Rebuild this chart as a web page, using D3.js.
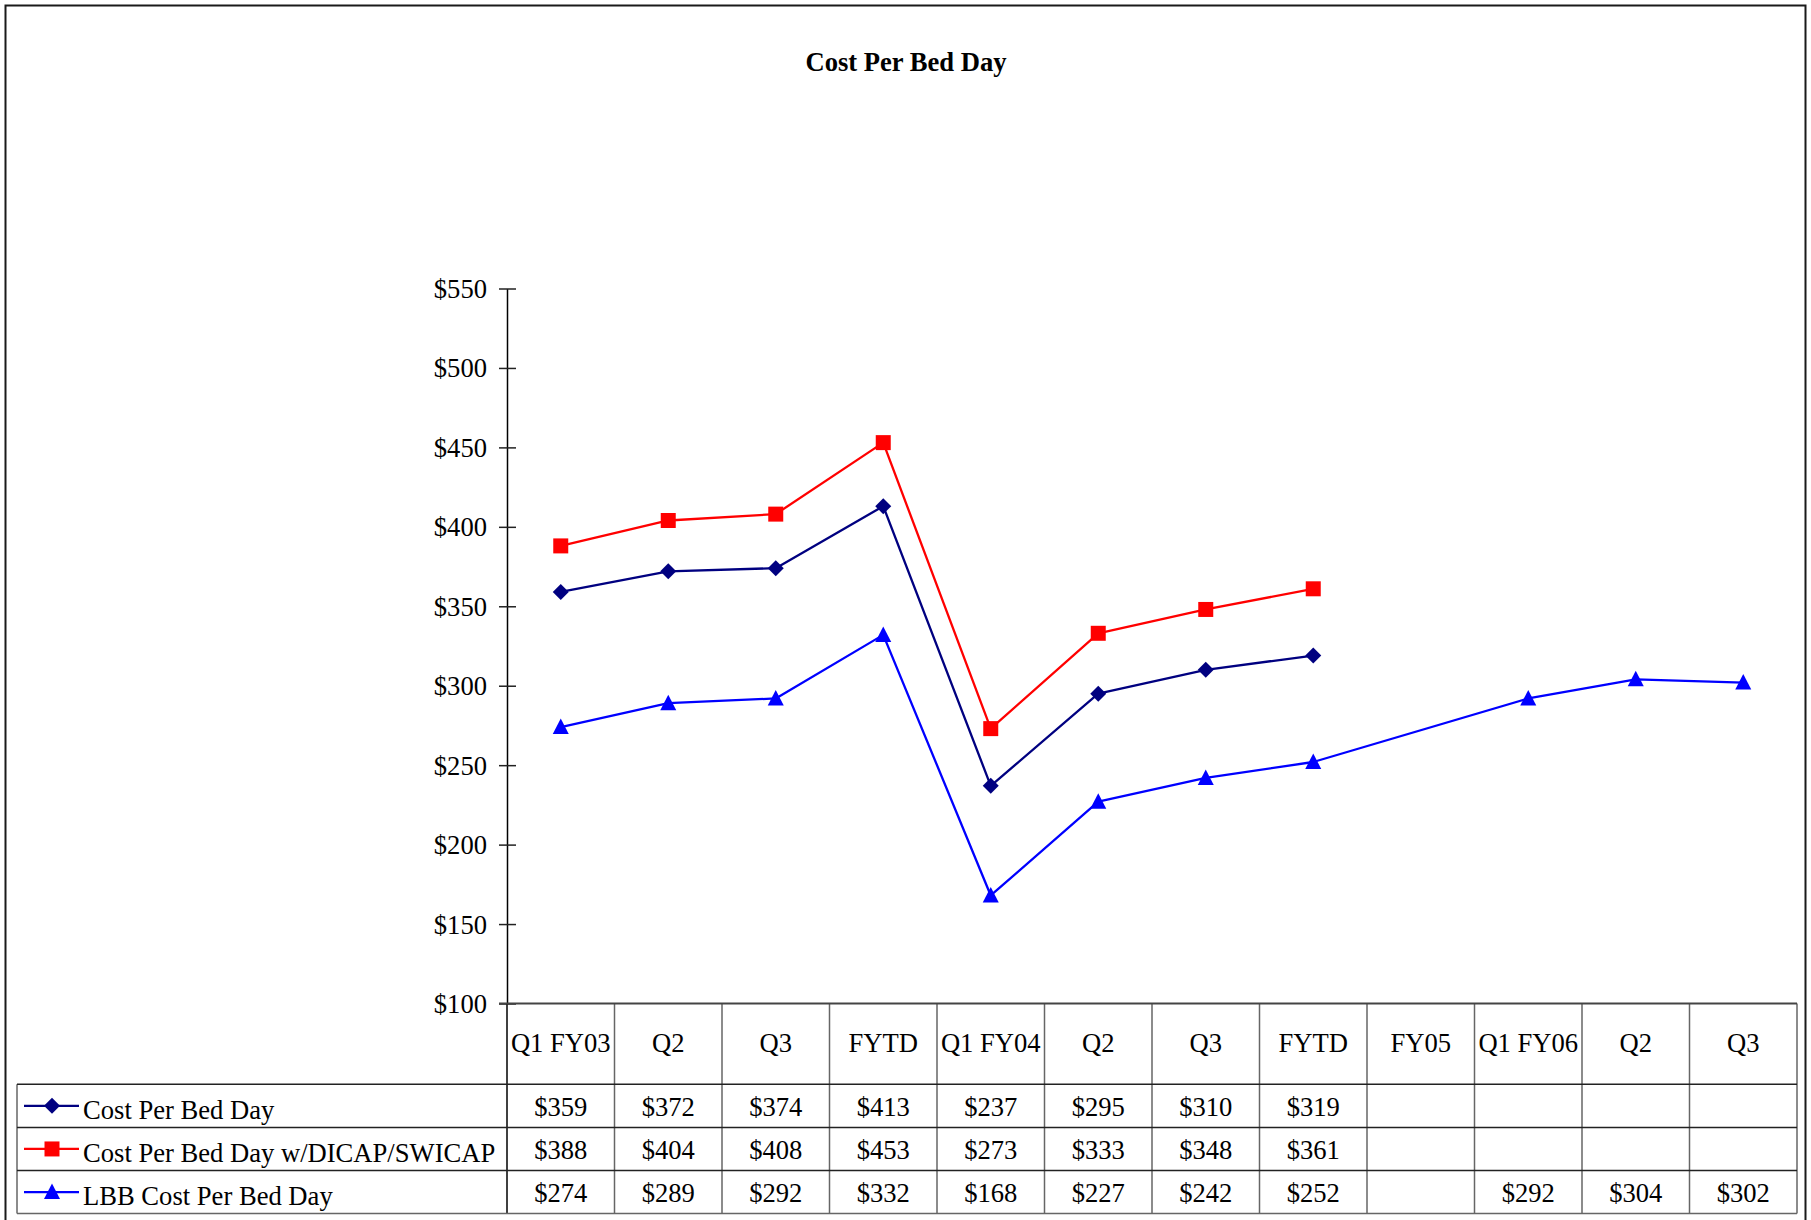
<!DOCTYPE html>
<html>
<head>
<meta charset="utf-8">
<script src="https://cdn.jsdelivr.net/npm/d3@7"></script>
<style>
  html, body { margin: 0; padding: 0; background: #fff; }
  svg { display: block; font-family: "Liberation Serif", "Times New Roman", Times, serif; }
</style>
</head>
<body>
<svg id="chart" width="1811" height="1220"></svg>
<script>
// Period labels along the category axis / data table header
const categories = ["Q1 FY03", "Q2", "Q3", "FYTD", "Q1 FY04", "Q2", "Q3", "FYTD", "FY05", "Q1 FY06", "Q2", "Q3"];

// Series values (null = no figure reported for that period)
const costPerBedDay = [359, 372, 374, 413, 237, 295, 310, 319, null, null, null, null];
const costWithCaps  = [388, 404, 408, 453, 273, 333, 348, 361, null, null, null, null];
const lbbCost       = [274, 289, 292, 332, 168, 227, 242, 252, null, 292, 304, 302];

const seriesNames = ["Cost Per Bed Day", "Cost Per Bed Day w/DICAP/SWICAP", "LBB Cost Per Bed Day"];

// Value axis ticks
const yTicks = [100, 150, 200, 250, 300, 350, 400, 450, 500, 550];

const chartTitle = "Cost Per Bed Day";

const series = [
  { name: seriesNames[0], values: costPerBedDay, color: "#000080", shape: "diamond" },
  { name: seriesNames[1], values: costWithCaps,  color: "#ff0000", shape: "square" },
  { name: seriesNames[2], values: lbbCost,       color: "#0000ff", shape: "triangle" }
];

const svg = d3.select("#chart");
const FONT = 26.6;

// Layout
const plotLeft = 507, plotRight = 1797;
const plotTop = 288.5, plotBottom = 1003.5;
const headerBottom = 1084.3;
const rowH = 43.1;
const tableLeft = 17;
const tableBottom = headerBottom + rowH * series.length;

const x = d3.scaleBand().domain(d3.range(categories.length)).range([plotLeft, plotRight]);
const y = d3.scaleLinear().domain([100, 550]).range([plotBottom, plotTop]);
const cx = i => x(i) + x.bandwidth() / 2;

// Outer frame
svg.append("path")
  .attr("d", `M5.5,1225 V5.5 H1805.5 V1225`)
  .attr("fill", "none").attr("stroke", "#1a1a1a").attr("stroke-width", 2);

// Title
svg.append("text")
  .attr("x", 906).attr("y", 71)
  .attr("text-anchor", "middle")
  .attr("font-weight", "bold")
  .attr("font-size", 26.6)
  .text(chartTitle);

// Value axis
const yAxis = svg.append("g")
  .attr("transform", `translate(${plotLeft},0)`)
  .call(d3.axisLeft(y).tickValues(yTicks).tickFormat(d => "$" + d)
    .tickSize(8).tickPadding(12).tickSizeOuter(0));
yAxis.select(".domain").attr("stroke", "#000").attr("stroke-width", 1.5);
yAxis.selectAll(".tick line").attr("x1", -8).attr("x2", 9).attr("stroke", "#222").attr("stroke-width", 1.5);
yAxis.selectAll(".tick text")
  .attr("font-size", FONT).attr("font-family", "Liberation Serif, Times New Roman, serif")
  .attr("fill", "#000").attr("dy", "0.34em");

// Data table grid
const grid = svg.append("g").attr("fill", "none");
// vertical dividers between periods
grid.selectAll("line.vdiv")
  .data(d3.range(1, categories.length + 1))
  .join("line")
  .attr("x1", i => x(i - 1) + x.bandwidth()).attr("x2", i => x(i - 1) + x.bandwidth())
  .attr("y1", plotBottom).attr("y2", tableBottom)
  .attr("stroke", "#666").attr("stroke-width", 1.5);
// category axis line continuing down the table
grid.append("line")
  .attr("x1", plotLeft).attr("x2", plotLeft)
  .attr("y1", plotBottom).attr("y2", tableBottom)
  .attr("stroke", "#000").attr("stroke-width", 1.5);
// legend column left edge
grid.append("line")
  .attr("x1", tableLeft).attr("x2", tableLeft)
  .attr("y1", headerBottom).attr("y2", tableBottom)
  .attr("stroke", "#666").attr("stroke-width", 1.5);
// header top (category axis)
grid.append("line")
  .attr("x1", plotLeft - 8).attr("x2", plotRight)
  .attr("y1", plotBottom).attr("y2", plotBottom)
  .attr("stroke", "#444").attr("stroke-width", 2);
// row lines
grid.selectAll("line.hrow")
  .data(d3.range(series.length + 1))
  .join("line")
  .attr("x1", tableLeft).attr("x2", plotRight)
  .attr("y1", r => headerBottom + r * rowH).attr("y2", r => headerBottom + r * rowH)
  .attr("stroke", r => r === series.length ? "#666" : "#222").attr("stroke-width", 1.5);

// Category labels in the header row
svg.append("g").selectAll("text")
  .data(categories)
  .join("text")
  .attr("x", (d, i) => cx(i))
  .attr("y", (plotBottom + headerBottom) / 2 - 1)
  .attr("dy", "0.34em")
  .attr("text-anchor", "middle")
  .attr("font-size", FONT)
  .text(d => d);

// Marker shapes
function markerPath(shape, px, py) {
  if (shape === "diamond") return `M${px},${py - 8} L${px + 8},${py} L${px},${py + 8} L${px - 8},${py} Z`;
  if (shape === "square") return `M${px - 7.5},${py - 7.5} h15 v15 h-15 Z`;
  return `M${px},${py - 8.5} L${px + 8},${py + 7} L${px - 8},${py + 7} Z`;
}

// Series lines and markers
const line = d3.line().x(d => cx(d.i)).y(d => y(d.v));
series.forEach(s => {
  const pts = s.values.map((v, i) => ({ i, v })).filter(d => d.v != null);
  const g = svg.append("g");
  g.append("path")
    .attr("d", line(pts))
    .attr("fill", "none").attr("stroke", s.color).attr("stroke-width", 2.3)
    .attr("stroke-linejoin", "round");
  g.selectAll("path.m")
    .data(pts)
    .join("path")
    .attr("class", "m")
    .attr("d", d => markerPath(s.shape, cx(d.i), y(d.v)))
    .attr("fill", s.color);
});

// Data table rows: legend key + values
series.forEach((s, r) => {
  const rowMid = headerBottom + r * rowH + rowH / 2;
  const g = svg.append("g");
  g.append("line")
    .attr("x1", 24).attr("x2", 79).attr("y1", rowMid).attr("y2", rowMid)
    .attr("stroke", s.color).attr("stroke-width", 2.3);
  g.append("path").attr("d", markerPath(s.shape, 52, rowMid)).attr("fill", s.color);
  g.append("text")
    .attr("x", 83).attr("y", rowMid + 4).attr("dy", "0.34em")
    .attr("font-size", FONT)
    .text(s.name);
  g.selectAll("text.v")
    .data(s.values.map((v, i) => ({ i, v })).filter(d => d.v != null))
    .join("text")
    .attr("class", "v")
    .attr("x", d => cx(d.i)).attr("y", rowMid + 1).attr("dy", "0.34em")
    .attr("text-anchor", "middle")
    .attr("font-size", FONT)
    .text(d => "$" + d.v);
});
</script>
</body>
</html>
